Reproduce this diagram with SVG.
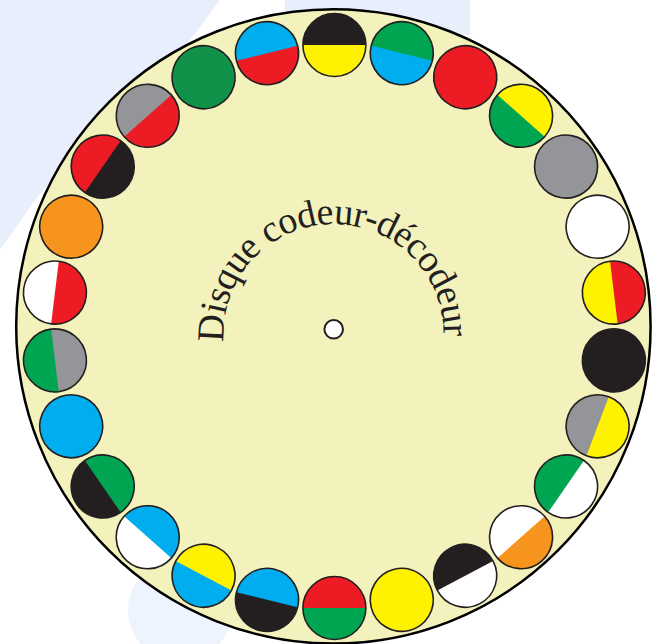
<svg xmlns="http://www.w3.org/2000/svg" xmlns:xlink="http://www.w3.org/1999/xlink" width="662" height="644" viewBox="0 0 662 644">
<style>
.k{fill:#231f20}.y{fill:#fff200}.g{fill:#00a551}.G{fill:#10924a}.b{fill:#00aeef}.r{fill:#ed1c24}.s{fill:#939598}.o{fill:#f7941d}.w{fill:#ffffff}
.ol{fill:none;stroke:#231f20;stroke-width:1.6}
.wm{fill:#e8eefb}
</style>
<defs>
<circle id="full" r="31.5"/>
<path id="half" d="M-31.5 0A31.5 31.5 0 0 1 31.5 0Z"/>
<circle id="edge" r="31.5" class="ol"/>
<path id="tp" d="M223.8 342.1A110 110 0 1 1 436.9 371.6"/>
</defs>
<rect width="662" height="644" fill="#ffffff"/>
<g id="watermark">
<path class="wm" d="M0 0H220L190 40L110 110L35 200L0 250Z"/>
<path class="wm" d="M285 0H470V35H285Z"/>
<circle class="wm" cx="180" cy="610" r="52" style="fill:#eef4fe"/>
</g>
<g id="disc">
<circle cx="333.4" cy="326.4" r="317.2" fill="#f4f2bc" stroke="#000000" stroke-width="2.5"/>
</g>
<g id="title">
<text font-family="'Liberation Serif', serif" font-size="38" fill="#231f20"><textPath xlink:href="#tp" href="#tp" textLength="356" lengthAdjust="spacing">Disque codeur-décodeur</textPath></text>
</g>
<g id="hub">
<circle cx="333.7" cy="329.3" r="9.3" fill="#ffffff" stroke="#231f20" stroke-width="2"/>
</g>
<g id="slots">
<g id="c00" transform="translate(334.4 45) rotate(0)"><use href="#full" class="y"/><use href="#half" class="k"/><use href="#edge"/></g>
<g id="c01" transform="translate(401.77 53.18) rotate(13.846)"><use href="#full" class="b"/><use href="#half" class="g"/><use href="#edge"/></g>
<g id="c02" transform="translate(465.22 77.24) rotate(27.692)"><use href="#full" class="r"/><use href="#edge"/></g>
<g id="c03" transform="translate(521.07 115.79) rotate(41.538)"><use href="#full" class="g"/><use href="#half" class="y"/><use href="#edge"/></g>
<g id="c04" transform="translate(566.07 166.59) rotate(55.385)"><use href="#full" class="s"/><use href="#edge"/></g>
<g id="c05" transform="translate(597.61 226.68) rotate(69.231)"><use href="#full" class="w"/><use href="#edge"/></g>
<g id="c06" transform="translate(613.85 292.57) rotate(83.077)"><use href="#full" class="y"/><use href="#half" class="r"/><use href="#edge"/></g>
<g id="c07" transform="translate(613.85 360.43) rotate(96.923)"><use href="#full" class="k"/><use href="#edge"/></g>
<g id="c08" transform="translate(597.61 426.32) rotate(110.769)"><use href="#full" class="s"/><use href="#half" class="y"/><use href="#edge"/></g>
<g id="c09" transform="translate(566.07 486.41) rotate(124.615)"><use href="#full" class="g"/><use href="#half" class="w"/><use href="#edge"/></g>
<g id="c10" transform="translate(521.07 537.21) rotate(138.462)"><use href="#full" class="w"/><use href="#half" class="o"/><use href="#edge"/></g>
<g id="c11" transform="translate(465.22 575.76) rotate(152.308)"><use href="#full" class="k"/><use href="#half" class="w"/><use href="#edge"/></g>
<g id="c12" transform="translate(401.77 599.82) rotate(166.154)"><use href="#full" class="y"/><use href="#edge"/></g>
<g id="c13" transform="translate(334.4 608) rotate(180)"><use href="#full" class="r"/><use href="#half" class="g"/><use href="#edge"/></g>
<g id="c14" transform="translate(267.03 599.82) rotate(193.846)"><use href="#full" class="b"/><use href="#half" class="k"/><use href="#edge"/></g>
<g id="c15" transform="translate(203.58 575.76) rotate(207.692)"><use href="#full" class="y"/><use href="#half" class="b"/><use href="#edge"/></g>
<g id="c16" transform="translate(147.73 537.21) rotate(221.538)"><use href="#full" class="b"/><use href="#half" class="w"/><use href="#edge"/></g>
<g id="c17" transform="translate(102.73 486.41) rotate(235.385)"><use href="#full" class="g"/><use href="#half" class="k"/><use href="#edge"/></g>
<g id="c18" transform="translate(71.19 426.32) rotate(249.231)"><use href="#full" class="b"/><use href="#edge"/></g>
<g id="c19" transform="translate(54.95 360.43) rotate(263.077)"><use href="#full" class="s"/><use href="#half" class="g"/><use href="#edge"/></g>
<g id="c20" transform="translate(54.95 292.57) rotate(276.923)"><use href="#full" class="r"/><use href="#half" class="w"/><use href="#edge"/></g>
<g id="c21" transform="translate(71.19 226.68) rotate(290.769)"><use href="#full" class="o"/><use href="#edge"/></g>
<g id="c22" transform="translate(102.73 166.59) rotate(304.615)"><use href="#full" class="k"/><use href="#half" class="r"/><use href="#edge"/></g>
<g id="c23" transform="translate(147.73 115.79) rotate(318.462)"><use href="#full" class="r"/><use href="#half" class="s"/><use href="#edge"/></g>
<g id="c24" transform="translate(203.58 77.24) rotate(332.308)"><use href="#full" class="G"/><use href="#edge"/></g>
<g id="c25" transform="translate(267.03 53.18) rotate(346.154)"><use href="#full" class="r"/><use href="#half" class="b"/><use href="#edge"/></g>
</g>
</svg>
